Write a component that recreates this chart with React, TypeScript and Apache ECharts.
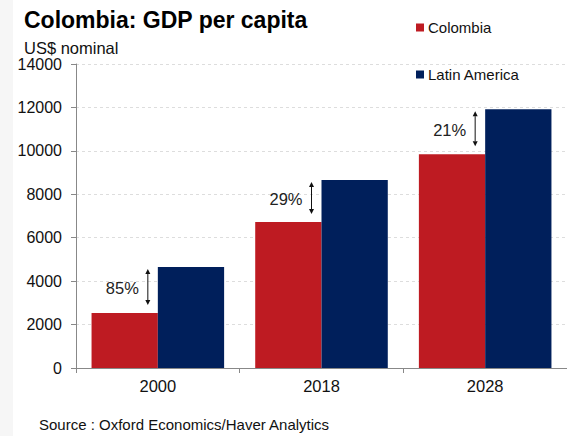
import React, { useEffect, useRef } from "react";
import * as echarts from "echarts";

const categories = ["2000", "2018", "2028"];
const colombia = [2530, 6720, 9840];
const latinAmerica = [4650, 8660, 11920];
const gapLabels = ["85%", "29%", "21%"];
const yTicksMax = 14000;
const yInterval = 2000;

export default function App() {
  const ref = useRef<HTMLDivElement>(null);
  useEffect(() => {
    if (!ref.current) return;
    const chart = echarts.init(ref.current, undefined, { renderer: "svg" });
    const font = "Liberation Sans, Arial, sans-serif";
    const arrowData = categories.map((_, i) => [i, colombia[i], latinAmerica[i]]);
    chart.setOption({
      animation: false,
      backgroundColor: "#ffffff",
      textStyle: { fontFamily: font },
      title: {
        text: "Colombia: GDP per capita",
        left: 19,
        top: 3,
        textStyle: { fontSize: 23, fontWeight: "bold", color: "#000", fontFamily: font },
      },
      graphic: [
        {
          type: "rect",
          left: 0,
          top: 0,
          shape: { width: 13, height: 436 },
          style: { fill: "#f6f6f6" },
          z: -10,
        },
        {
          type: "text",
          left: 24,
          top: 39,
          style: { text: "US$ nominal", fontSize: 16.5, fill: "#111", fontFamily: font },
        },
        {
          type: "text",
          left: 39,
          top: 417,
          style: { text: "Source : Oxford Economics/Haver Analytics", fontSize: 15, fill: "#111", fontFamily: font },
        },
      ],
      legend: {
        data: ["Colombia", "Latin America"],
        orient: "vertical",
        left: 411,
        top: 15,
        itemWidth: 8,
        itemHeight: 8,
        itemGap: 32,
        icon: "rect",
        textStyle: { fontSize: 15, color: "#111", fontFamily: font, padding: [0, 0, 0, -1] },
      },
      grid: { left: 76, right: 0, top: 64, bottom: 68 },
      xAxis: {
        type: "category",
        data: categories,
        axisLine: { lineStyle: { color: "#888", width: 1 } },
        axisTick: { show: true, length: 5, lineStyle: { color: "#888" } },
        axisLabel: { fontSize: 16.5, color: "#111", margin: 9, fontFamily: font },
      },
      yAxis: {
        type: "value",
        min: 0,
        max: yTicksMax,
        interval: yInterval,
        axisLine: { show: true, lineStyle: { color: "#888", width: 1 } },
        axisTick: { show: true, length: 5, lineStyle: { color: "#888" } },
        axisLabel: {
          fontSize: 16,
          color: "#111",
          margin: 14,
          fontFamily: font,
          formatter: (v: number) => String(v),
        },
        splitLine: { show: true, lineStyle: { color: "#ddd", type: [3, 3] } },
      },
      series: [
        {
          name: "Colombia",
          type: "bar",
          data: colombia,
          barGap: "0%",
          barCategoryGap: "19%",
          itemStyle: { color: "#BE1B22" },
        },
        {
          name: "Latin America",
          type: "bar",
          data: latinAmerica,
          itemStyle: { color: "#001F5B" },
        },
        {
          type: "custom",
          data: arrowData,
          z: 10,
          renderItem: (params: any, api: any) => {
            const i = api.value(0);
            const pLow = api.coord([i, api.value(1)]);
            const pHigh = api.coord([i, api.value(2)]);
            const x = pLow[0] - 10;
            const yTop = pHigh[1] + 2;
            const yBot = pLow[1] - 8;
            const h = 5;
            const w = 2.5;
            const col = "#111";
            return {
              type: "group",
              children: [
                { type: "line", shape: { x1: x, y1: yTop + h, x2: x, y2: yBot - h }, style: { stroke: col, lineWidth: 1 } },
                { type: "polygon", shape: { points: [[x, yTop], [x - w, yTop + h], [x + w, yTop + h]] }, style: { fill: col } },
                { type: "polygon", shape: { points: [[x, yBot], [x - w, yBot - h], [x + w, yBot - h]] }, style: { fill: col } },
                {
                  type: "text",
                  x: x - 9,
                  y: (yTop + yBot) / 2 + 1,
                  style: {
                    text: gapLabels[params.dataIndex],
                    fontSize: 16.5,
                    fill: "#222",
                    align: "right",
                    verticalAlign: "middle",
                    fontFamily: font,
                  },
                },
              ],
            };
          },
        },
      ],
    });
    return () => chart.dispose();
  }, []);
  return <div ref={ref} style={{ position: "fixed", left: 0, top: 0, width: 567, height: 436 }} />;
}
